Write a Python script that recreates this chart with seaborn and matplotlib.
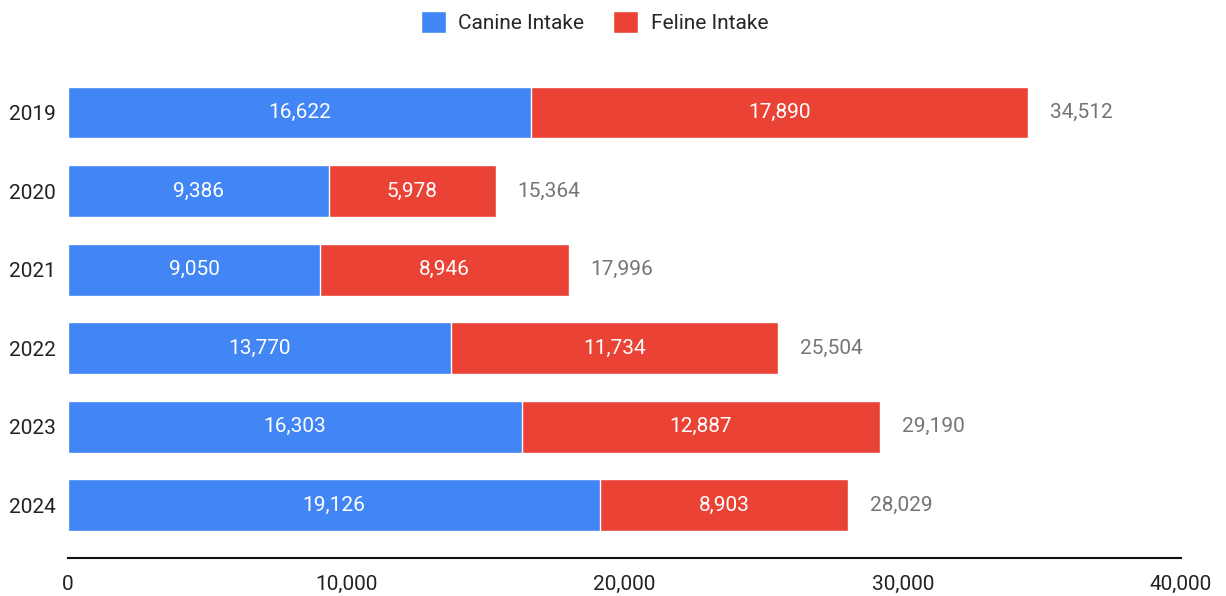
import matplotlib
matplotlib.use("Agg")
import matplotlib.pyplot as plt
import seaborn as sns
import pandas as pd

# data
YEARS = ["2019", "2020", "2021", "2022", "2023", "2024"]
CANINE = [16622, 9386, 9050, 13770, 16303, 19126]
FELINE = [17890, 5978, 8946, 11734, 12887, 8903]
TOTAL = [c + f for c, f in zip(CANINE, FELINE)]
XTICKS = [0, 10000, 20000, 30000, 40000]

BLUE = "#4285F4"
RED = "#EA4335"
FS = 15

sns.set_theme(style="white")
plt.rcParams["font.family"] = ["Roboto", "DejaVu Sans"]

df = pd.DataFrame({"year": YEARS, "canine": CANINE, "feline": FELINE, "total": TOTAL})

fig = plt.figure(figsize=(12.26, 5.96), dpi=100)
ax = fig.add_axes([0.0555, 0.0638, 0.9078, 0.8372])

# stacked: full total in red, canine part on top in blue
sns.barplot(data=df, y="year", x="total", color=RED, orient="h", width=0.66,
            saturation=1, ax=ax, label="Feline Intake")
sns.barplot(data=df, y="year", x="canine", color=BLUE, orient="h", width=0.66,
            saturation=1, ax=ax, label="Canine Intake")

for i, (c, f, t) in enumerate(zip(CANINE, FELINE, TOTAL)):
    ax.text(c / 2, i, f"{c:,}", ha="center", va="center", color="white", fontsize=FS)
    ax.text(c + f / 2, i, f"{f:,}", ha="center", va="center", color="white", fontsize=FS)
    ax.text(t + 790, i, f"{t:,}", ha="left", va="center", color="#757575", fontsize=FS)

ax.set_xlim(0, 40000)
ax.set_ylim(5.67, -0.68)
ax.set_xticks(XTICKS)
ax.set_xticklabels([f"{v:,}" for v in XTICKS], fontsize=FS, color="#222222")
ax.tick_params(axis="y", labelsize=FS, labelcolor="#222222", length=0, pad=9)
ax.tick_params(axis="x", length=0, pad=12)
ax.set_xlabel("")
ax.set_ylabel("")
for s in ["top", "right", "left"]:
    ax.spines[s].set_visible(False)
ax.spines["bottom"].set_color("#111111")
ax.spines["bottom"].set_linewidth(1.5)

handles, labels = ax.get_legend_handles_labels()
order = [labels.index("Canine Intake"), labels.index("Feline Intake")]
fig.legend([handles[k] for k in order], [labels[k] for k in order],
           loc="center", bbox_to_anchor=(0.485, 0.963), ncol=2, frameon=False,
           fontsize=FS, handlelength=1.2, handleheight=1.2, handletextpad=0.6,
           columnspacing=1.4)
if ax.get_legend():
    ax.get_legend().remove()

fig.savefig("out.png", dpi=100)
